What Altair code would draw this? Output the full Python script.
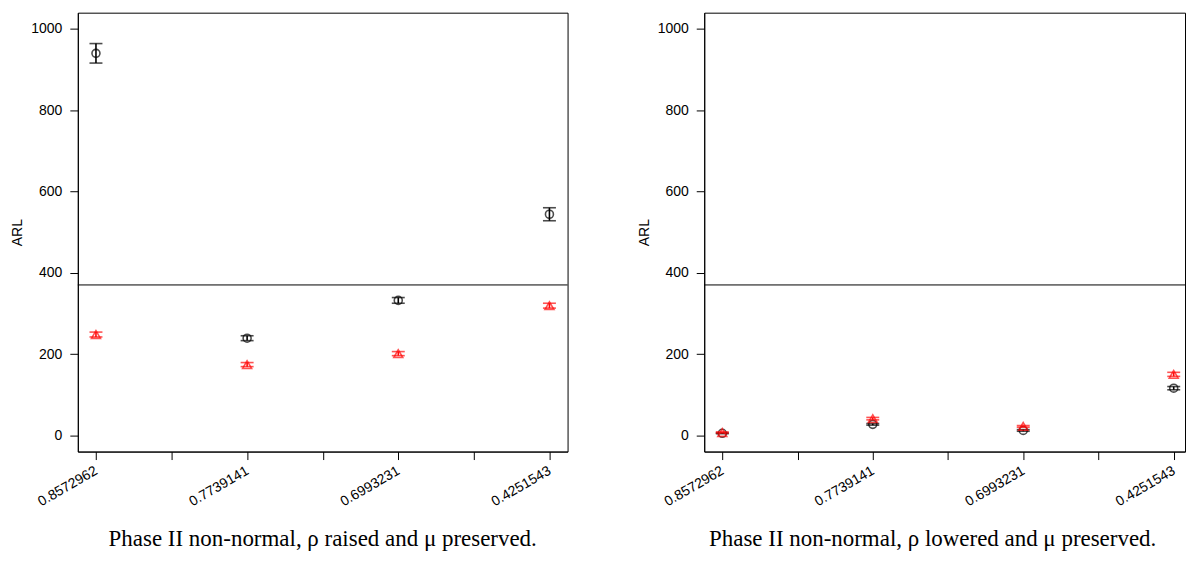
import altair as alt
import pandas as pd

positions = [1, 2, 3, 4]
tick_labels = ["0.8572962", "0.7739141", "0.6993231", "0.4251543"]

# Panel 1: rho raised, mu preserved
raised_black_mean = [940, 239, 332, 544]
raised_black_half = [24, 6, 7, 16]
raised_red_mean = [248, 174, 201, 319]
raised_red_half = [6, 5, 5, 6]

# Panel 2: rho lowered, mu preserved
lowered_black_mean = [5, 27, 12, 116]
lowered_black_half = [1, 2, 2, 4]
lowered_red_mean = [7, 41, 22, 150]
lowered_red_half = [1.5, 3, 2, 5]

arl0 = [370]
captions = [
    "Phase II non-normal, \u03c1 raised and \u03bc preserved.",
    "Phase II non-normal, \u03c1 lowered and \u03bc preserved.",
]

SANS = "Liberation Sans"
SERIF = "Liberation Serif"
RED = "#ff0a0a"


def make_df(bm, bh, rm, rh):
    rows = []
    for p, m, h in zip(positions, bm, bh):
        rows.append(dict(pos=p, series="black", mean=m, lo=m - h, hi=m + h))
    for p, m, h in zip(positions, rm, rh):
        rows.append(dict(pos=p, series="red", mean=m, lo=m - h, hi=m + h))
    return pd.DataFrame(rows)


label_expr = " : ".join(
    f"datum.value == {p} ? '{t}'" for p, t in zip(positions, tick_labels)
) + " : ''"

yscale = alt.Scale(domain=[-40, 1040], nice=False, zero=False)

yaxis = alt.Axis(
    values=[0, 200, 400, 600, 800, 1000],
    format="d",
    tickSize=8,
    labelPadding=8,
    grid=False,
    title="ARL",
    titlePadding=6,
)


def panel(df, caption, w, dx, xmax):
    base = alt.Chart(df)
    xaxis = alt.Axis(
        values=[1, 1.5, 2, 2.5, 3, 3.5, 4],
        labelExpr=label_expr,
        labelAngle=-30,
        labelAlign="right",
        labelBaseline="middle",
        labelPadding=10,
        labelOverlap=False,
        labelFlush=False,
        labelBound=False,
        tickSize=8,
        grid=False,
        title=None,
    )
    xscale = alt.Scale(domain=[0.88, xmax], nice=False, zero=False)
    x = alt.X("pos:Q", scale=xscale, axis=xaxis)
    color = alt.Color(
        "series:N",
        scale=alt.Scale(domain=["black", "red"], range=["black", RED]),
        legend=None,
    )
    layers = []
    for s, shape, size in [("black", "circle", 64), ("red", "triangle-up", 80)]:
        d = base.transform_filter(alt.datum.series == s)
        bar = d.mark_rule(strokeWidth=1.6).encode(
            x=x, y=alt.Y("lo:Q", scale=yscale, axis=yaxis), y2="hi:Q", color=color
        )
        cap_lo = d.mark_tick(orient="horizontal", size=13, thickness=1.6).encode(
            x=x, y=alt.Y("lo:Q", scale=yscale), color=color
        )
        cap_hi = d.mark_tick(orient="horizontal", size=13, thickness=1.6).encode(
            x=x, y=alt.Y("hi:Q", scale=yscale), color=color
        )
        pts = d.mark_point(shape=shape, filled=False, size=size, strokeWidth=1.6).encode(
            x=x, y=alt.Y("mean:Q", scale=yscale), color=color
        )
        layers += [bar, cap_lo, cap_hi, pts]
    hline = alt.Chart(pd.DataFrame({"v": arl0})).mark_rule(
        color="black", strokeWidth=1
    ).encode(y=alt.Y("v:Q", scale=yscale))
    return alt.layer(hline, *layers).properties(
        width=w,
        height=440,
        title=alt.TitleParams(
            caption,
            orient="bottom",
            anchor="middle",
            font=SERIF,
            fontSize=23,
            fontWeight="normal",
            color="black",
            offset=20,
            dx=dx,
        ),
    )


left = panel(
    make_df(raised_black_mean, raised_black_half, raised_red_mean, raised_red_half),
    captions[0],
    491,
    0,
    4.12,
)
# right panel is cut at the page edge in the reference: same scale, narrower view
right = panel(
    make_df(lowered_black_mean, lowered_black_half, lowered_red_mean, lowered_red_half),
    captions[1],
    482,
    -12,
    4.075,
)

chart = (
    alt.hconcat(left, right, spacing=68)
    .configure(padding={"left": 2, "top": 3, "right": 0, "bottom": 0})
    .configure_view(stroke="black", strokeWidth=1)
    .configure_axis(
        domainColor="black",
        tickColor="black",
        labelColor="black",
        titleColor="black",
        labelFont=SANS,
        titleFont=SANS,
        labelFontSize=14,
        titleFontSize=14,
        titleFontWeight="normal",
    )
)

chart.save("out.html", embed_options={"renderer": "svg", "actions": False})
